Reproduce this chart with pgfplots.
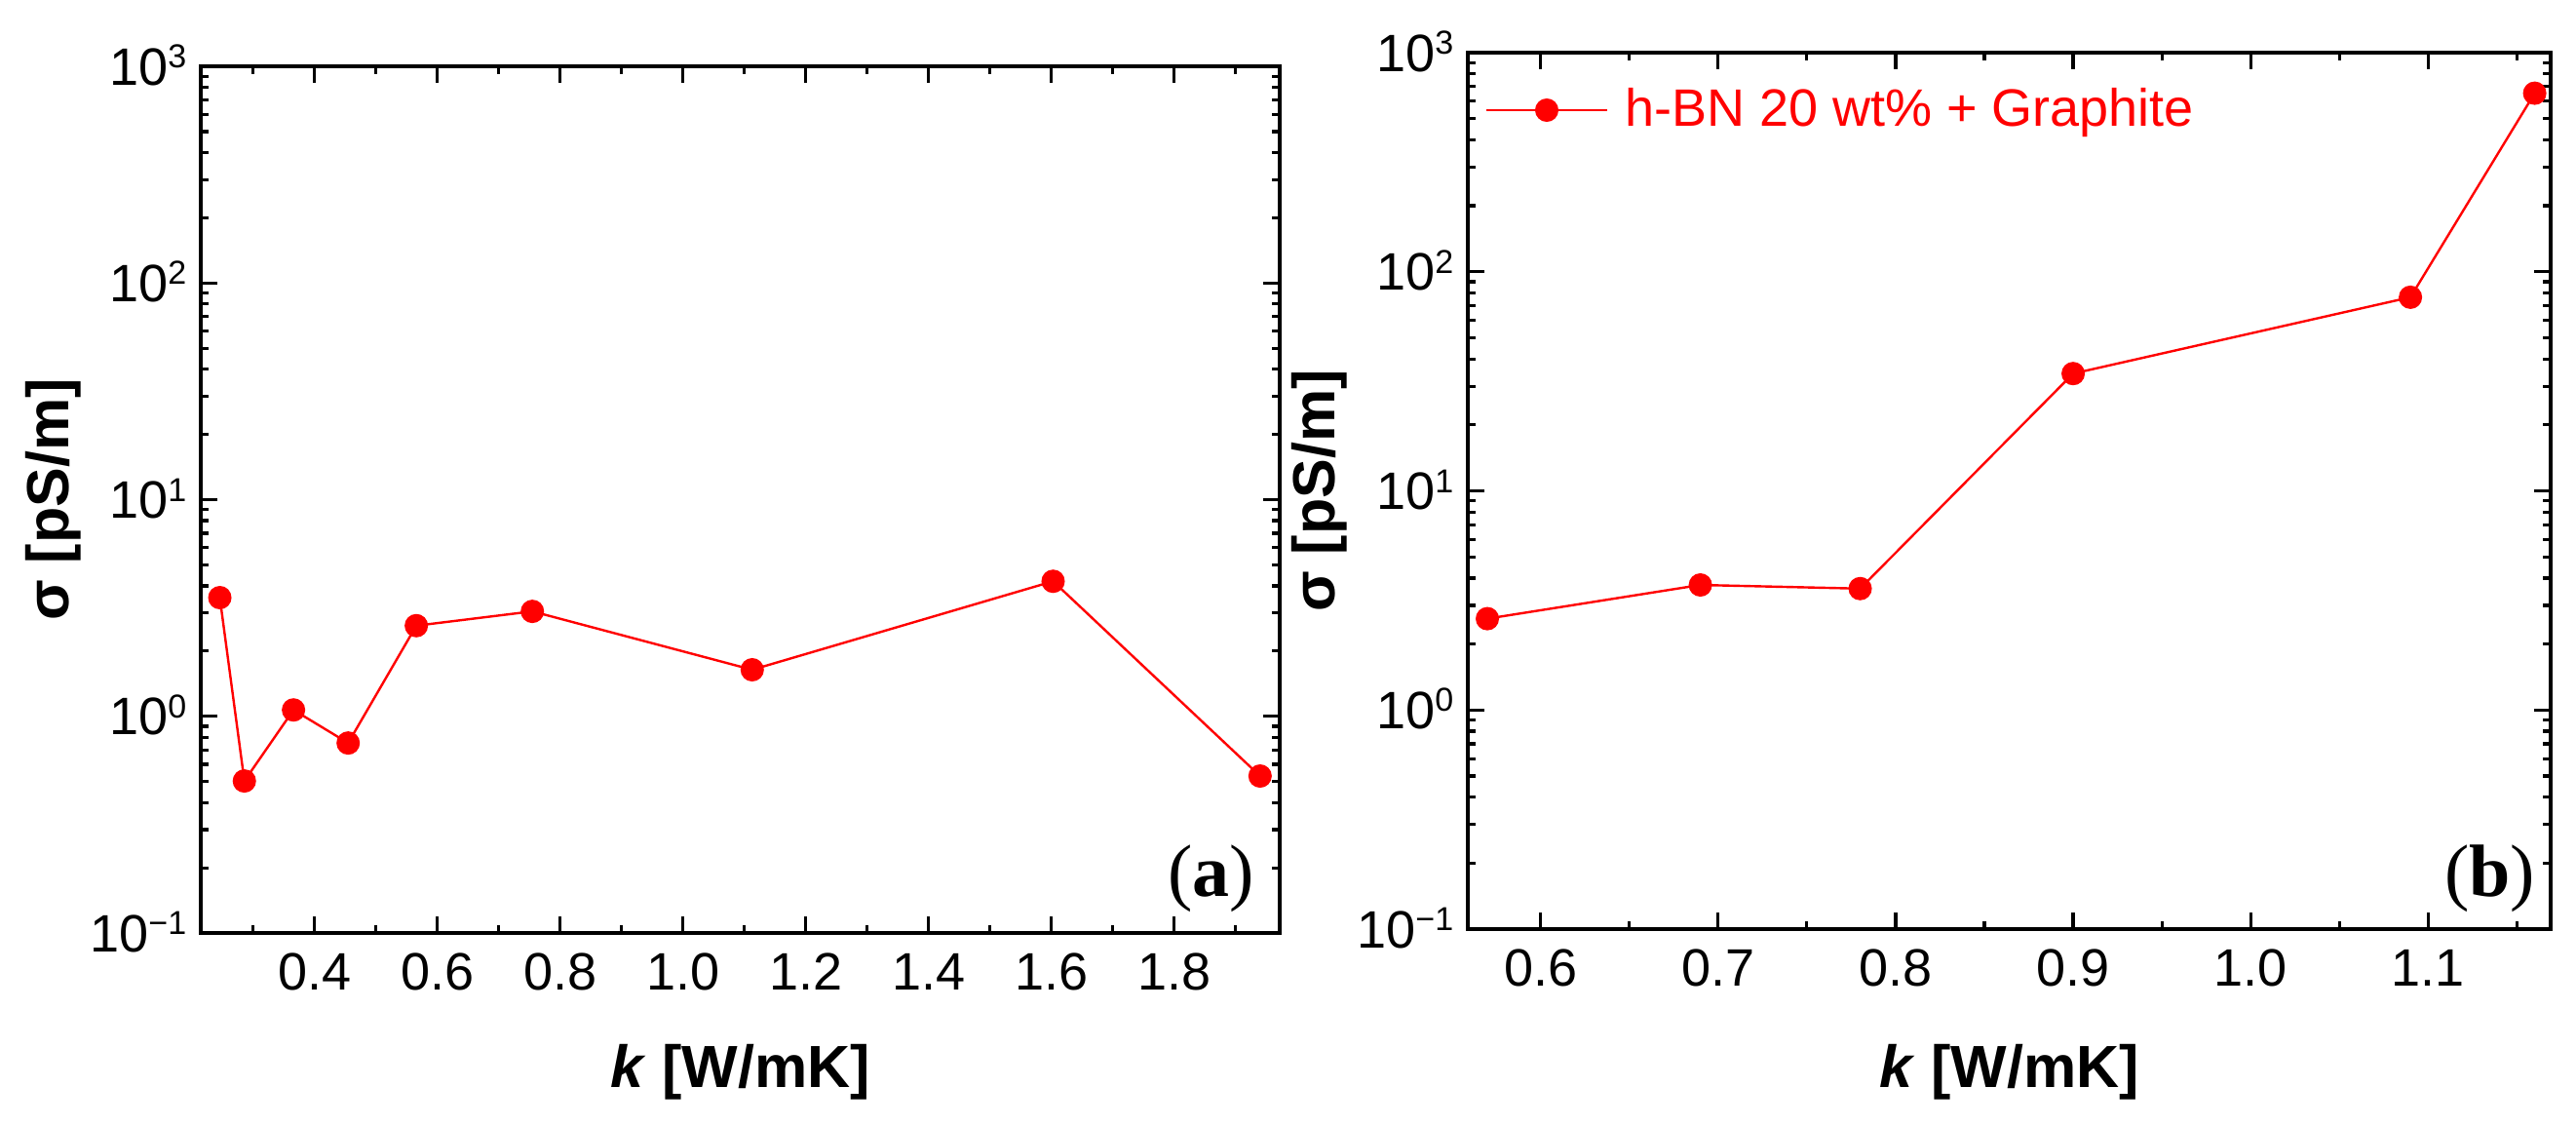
\documentclass[border=0pt]{standalone}
\usepackage{fontspec}
\setmainfont{Liberation Sans}
\newfontfamily\serifrm{Liberation Serif}
\usepackage{pgfplots}
\usepackage{pgfplotstable}
\pgfplotsset{compat=1.18}

\newcommand{\sups}[1]{10\raisebox{4.4pt}{\fontsize{8.5}{8.5}\selectfont #1}}

\pgfplotstableread{
x y
0.246 3.53
0.286 0.503
0.366 1.07
0.455 0.753
0.566 2.62
0.755 3.05
1.113 1.64
1.603 4.20
1.940 0.53
}\dataA

\pgfplotstableread{
x y
0.57 2.61
0.69 3.72
0.78 3.58
0.90 34.3
1.09 76.5
1.16 653
}\dataB

\begin{document}
\begin{tikzpicture}
\useasboundingbox (0,0) rectangle (660.75pt,288.75pt);

\begin{axis}[
  scale only axis,
  clip=false,
  ymode=log, ymin=0.1, ymax=1000,
  ytick={0.1,1,10,100,1000},
  yticklabels={\sups{−1},\sups{0},\sups{1},\sups{2},\sups{3}},
  minor ytick={0.2,0.3,0.4,0.5,0.6,0.7,0.8,0.9,2,3,4,5,6,7,8,9,20,30,40,50,60,70,80,90,200,300,400,500,600,700,800,900},
  tick align=inside,
  xtick pos=both, ytick pos=both,
  xticklabel pos=lower, yticklabel pos=left,
  major tick length=4.25pt, minor tick length=2pt,
  every tick/.append style={black, line width=0.8pt},
  axis line style={line width=1pt},
  tick label style={font=\fontsize{13.5}{13.5}\selectfont},
  xticklabels={0.4,0.6,0.8,1.0,1.2,1.4,1.6,1.8},
  xticklabel style={yshift=-1.75pt},
  yticklabel style={anchor=base east, inner sep=0pt, xshift=-3.5pt, yshift=-4.8pt},
  label style={font=\fontsize{15.25}{15.25}\selectfont\bfseries},
  ylabel={σ [pS/m]},
  xlabel={\textit{k} [W/mK]},
  at={(51.5pt,49.5pt)}, anchor=south west,
  width=276.75pt, height=222.25pt,
  xmin=0.215, xmax=1.972,
  xtick={0.4,0.6,0.8,1.0,1.2,1.4,1.6,1.8},
  minor xtick={0.3,0.5,0.7,0.9,1.1,1.3,1.5,1.7,1.9},
  xlabel style={at={([yshift=-39.5pt]axis description cs:0.5,0)}, anchor=base},
  ylabel style={at={([xshift=-33.75pt]axis description cs:0,0.5)}, anchor=base},
]
\addplot[red, line width=0.6pt, mark=*, mark size=2.7pt, mark options={fill=red, draw=red, solid}] table[x=x, y=y] {\dataA};
\node[anchor=base east, inner sep=0pt] at ([xshift=-6.25pt, yshift=9.4pt]rel axis cs:1,0) {\fontsize{19}{19}\selectfont\serifrm (\textbf{a})};
\end{axis}

\begin{axis}[
  scale only axis,
  clip=false,
  ymode=log, ymin=0.1, ymax=1000,
  ytick={0.1,1,10,100,1000},
  yticklabels={\sups{−1},\sups{0},\sups{1},\sups{2},\sups{3}},
  minor ytick={0.2,0.3,0.4,0.5,0.6,0.7,0.8,0.9,2,3,4,5,6,7,8,9,20,30,40,50,60,70,80,90,200,300,400,500,600,700,800,900},
  tick align=inside,
  xtick pos=both, ytick pos=both,
  xticklabel pos=lower, yticklabel pos=left,
  major tick length=4.25pt, minor tick length=2pt,
  every tick/.append style={black, line width=0.8pt},
  axis line style={line width=1pt},
  tick label style={font=\fontsize{13.5}{13.5}\selectfont},
  xticklabels={0.6,0.7,0.8,0.9,1.0,1.1},
  xticklabel style={yshift=-1.75pt},
  yticklabel style={anchor=base east, inner sep=0pt, xshift=-3.5pt, yshift=-4.8pt},
  label style={font=\fontsize{15.25}{15.25}\selectfont\bfseries},
  ylabel={σ [pS/m]},
  xlabel={\textit{k} [W/mK]},
  at={(376.5pt,50.5pt)}, anchor=south west,
  width=277.75pt, height=224.75pt,
  xmin=0.559, xmax=1.169,
  xtick={0.6,0.7,0.8,0.9,1.0,1.1},
  minor xtick={0.65,0.75,0.85,0.95,1.05,1.15},
  xlabel style={at={([yshift=-40.5pt]axis description cs:0.5,0)}, anchor=base},
  ylabel style={at={([xshift=-34.25pt]axis description cs:0,0.5)}, anchor=base},
  legend image code/.code={\draw[mark repeat=2, mark phase=2] plot coordinates {(0pt,0pt) (15.5pt,0pt) (31pt,0pt)};},
  legend style={at={([xshift=4.25pt, yshift=-14.75pt]axis description cs:0,1)}, anchor=west,
    draw=none, fill=none, inner sep=0pt, column sep=4.25pt,
    font=\fontsize{13.5}{13.5}\selectfont, text=red, nodes={inner sep=0pt}},
]
\addplot[red, line width=0.6pt, mark=*, mark size=2.7pt, mark options={fill=red, draw=red, solid}] table[x=x, y=y] {\dataB};
\addlegendentry{h-BN 20 wt\% + Graphite}
\node[anchor=base east, inner sep=0pt] at ([xshift=-3.75pt, yshift=8.4pt]rel axis cs:1,0) {\fontsize{19}{19}\selectfont\serifrm (\textbf{b})};
\end{axis}
\end{tikzpicture}
\end{document}
